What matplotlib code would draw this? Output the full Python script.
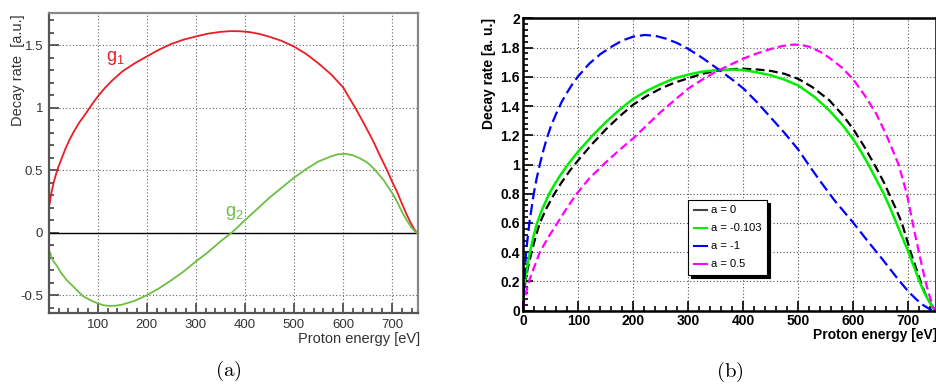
import matplotlib
matplotlib.use("Agg")
import matplotlib.pyplot as plt
from matplotlib.lines import Line2D
from matplotlib.ticker import MultipleLocator, FuncFormatter

plt.rcParams['font.family'] = ['Liberation Sans', 'DejaVu Sans']
plt.rcParams['axes.unicode_minus'] = False

# ---- panel (a): g1, g2 ----
t_g1 = [2, 5, 10, 15, 20, 27, 35, 42, 50, 62, 75, 87, 100, 115, 130, 150, 175,
        200, 225, 250, 275, 300, 325, 350, 370, 390, 410, 430, 450, 475, 500,
        525, 550, 575, 600, 612, 625, 637, 650, 662, 675, 690, 700, 710, 720,
        730, 738, 745, 751]
g1 = [0.23, 0.31, 0.40, 0.47, 0.53, 0.60, 0.68, 0.74, 0.80, 0.88, 0.95, 1.02,
      1.09, 1.16, 1.22, 1.29, 1.355, 1.41, 1.465, 1.51, 1.545, 1.57, 1.593,
      1.607, 1.613, 1.612, 1.605, 1.59, 1.568, 1.535, 1.49, 1.43, 1.355, 1.27,
      1.165, 1.085, 1.0, 0.915, 0.82, 0.73, 0.62, 0.5, 0.41, 0.33, 0.235,
      0.145, 0.08, 0.03, 0.0]

t_g2 = [3, 6, 10, 16, 25, 37, 50, 60, 71, 85, 100, 112, 125, 137, 150, 175,
        200, 225, 250, 275, 300, 325, 350, 373, 400, 425, 450, 475, 500, 525,
        550, 575, 590, 605, 620, 635, 650, 665, 683, 700, 710, 720, 730, 740,
        746, 751]
g2 = [-0.16, -0.2, -0.23, -0.26, -0.32, -0.38, -0.43, -0.47, -0.51, -0.54,
      -0.565, -0.58, -0.586, -0.583, -0.575, -0.545, -0.5, -0.445, -0.38,
      -0.31, -0.23, -0.155, -0.07, 0.0, 0.10, 0.19, 0.28, 0.36, 0.44, 0.51,
      0.57, 0.61, 0.628, 0.632, 0.62, 0.595, 0.56, 0.505, 0.42, 0.32, 0.25,
      0.17, 0.1, 0.04, 0.015, 0.0]

# ---- panel (b): spectra for different a ----
t_a0 = [0, 2, 4, 8, 15, 22, 30, 42, 55, 70, 85, 100, 125, 150, 175, 200, 225,
        250, 275, 300, 325, 350, 375, 400, 425, 450, 475, 500, 525, 556, 580,
        600, 620, 641, 655, 667, 678, 688, 696, 704, 713, 722, 730, 737, 743,
        748]
w_a0 = [0.08, 0.15, 0.2, 0.29, 0.4, 0.5, 0.6, 0.7, 0.79, 0.88, 0.96, 1.03,
        1.14, 1.24, 1.33, 1.41, 1.47, 1.52, 1.56, 1.59, 1.62, 1.64, 1.652,
        1.655, 1.65, 1.64, 1.62, 1.585, 1.53, 1.44, 1.34, 1.24, 1.12, 0.98,
        0.88, 0.78, 0.69, 0.6, 0.5, 0.4, 0.3, 0.2, 0.12, 0.07, 0.03, 0.0]

t_a103 = [0, 1.5, 3, 7, 12, 18, 25, 35, 47, 57, 67, 83, 100, 125, 150, 175,
          200, 225, 250, 275, 300, 325, 350, 375, 400, 425, 450, 475, 500, 530,
          556, 580, 600, 615, 627, 641, 655, 667, 678, 689, 700, 710, 720, 728,
          735, 742, 748]
w_a103 = [0.12, 0.16, 0.2, 0.3, 0.4, 0.5, 0.6, 0.7, 0.8, 0.865, 0.925, 1.01,
          1.09, 1.195, 1.29, 1.375, 1.45, 1.505, 1.55, 1.59, 1.615, 1.635,
          1.645, 1.65, 1.646, 1.63, 1.61, 1.58, 1.54, 1.46, 1.37, 1.27, 1.17,
          1.08, 1.0, 0.9, 0.8, 0.7, 0.6, 0.5, 0.4, 0.3, 0.2, 0.13, 0.08, 0.035,
          0.0]

t_a1 = [0, 1, 2, 3.5, 5, 8, 11, 15, 19, 24, 30, 36, 42, 50, 60, 70, 80, 90,
        100, 120, 140, 160, 180, 200, 221, 240, 260, 280, 300, 325, 355, 380,
        400, 425, 450, 475, 500, 520, 538, 565, 600, 625, 653, 680, 700, 715,
        726, 738, 748]
w_a1 = [0.0, 0.1, 0.2, 0.3, 0.4, 0.5, 0.6, 0.7, 0.8, 0.9, 1.0, 1.09, 1.17,
        1.26, 1.35, 1.43, 1.495, 1.555, 1.605, 1.69, 1.755, 1.805, 1.848,
        1.875, 1.886, 1.88, 1.86, 1.83, 1.79, 1.73, 1.65, 1.58, 1.52, 1.425,
        1.32, 1.215, 1.10, 0.99, 0.894, 0.757, 0.6, 0.48, 0.35, 0.22, 0.13,
        0.075, 0.04, 0.012, 0.0]

t_a05 = [0, 2, 5, 8, 12, 20, 30, 45, 62, 78, 95, 120, 150, 175, 200, 225, 250,
         275, 300, 325, 350, 375, 400, 425, 450, 470, 490, 505, 520, 540, 556,
         580, 600, 620, 641, 660, 682, 697, 705, 712, 719, 726, 733, 740, 745,
         748]
w_a05 = [0.02, 0.08, 0.12, 0.17, 0.22, 0.3, 0.4, 0.5, 0.6, 0.695, 0.79, 0.905,
         1.015, 1.1, 1.18, 1.27, 1.36, 1.44, 1.52, 1.58, 1.635, 1.68, 1.725,
         1.76, 1.79, 1.81, 1.82, 1.818, 1.805, 1.77, 1.73, 1.66, 1.58, 1.475,
         1.35, 1.2, 1.0, 0.8, 0.65, 0.52, 0.4, 0.28, 0.17, 0.08, 0.025, 0.0]

legend_labels = ['a = 0', 'a = -0.103', 'a = -1', 'a = 0.5']

W, H = 936, 385
fig = plt.figure(figsize=(W / 100, H / 100), dpi=100)


def fx(x):
    return x / W


def fy(y):
    return 1 - y / H


# ================= panel (a) =================
axa = fig.add_axes([fx(48.7), fy(313), fx(418 - 48.7), (313 - 13) / H])
axa.set_xlim(0, 753)
axa.set_ylim(-0.642, 1.758)
axa.set_axisbelow(True)
axa.grid(True, which='major', ls=(0, (1, 2)), color='#666666', lw=0.8)
axa.axhline(0, color='black', lw=1.0)
axa.plot(t_g1, g1, color='#ec1c24', lw=1.3)
axa.plot(t_g2, g2, color='#6cbf45', lw=1.3)
axa.set_xticks([100, 200, 300, 400, 500, 600, 700])
axa.xaxis.set_minor_locator(MultipleLocator(20))
axa.set_yticks([-0.5, 0, 0.5, 1, 1.5])
axa.yaxis.set_minor_locator(MultipleLocator(0.1))
axa.yaxis.set_major_formatter(FuncFormatter(lambda v, p: '%g' % v))
axa.tick_params(which='both', direction='in', top=False, right=False,
                color='#444444', width=1.2, labelsize=9.5, labelcolor='#333333')
axa.tick_params(which='major', length=7, pad=4)
axa.tick_params(which='minor', length=3.5)
for s in ['left', 'bottom']:
    axa.spines[s].set_color('#555555')
    axa.spines[s].set_linewidth(1.6)
for s in ['top', 'right']:
    axa.spines[s].set_color('#888888')
    axa.spines[s].set_linewidth(1.6)

axa.text(117, 1.40, r'g$_\mathregular{1}$', color='#ec1c24', fontsize=13,
         va='center')
axa.text(360, 0.16, r'g$_\mathregular{2}$', color='#6cbf45', fontsize=13,
         va='center')

fig.text(fx(18), fy(14), 'Decay rate  [a.u.]', rotation=90, ha='center',
         va='top', fontsize=10.5, color='#333333')
fig.text(fx(420), fy(338.5), 'Proton energy [eV]', ha='right', va='center',
         fontsize=10.5, color='#333333')

# ================= panel (b) =================
axb = fig.add_axes([fx(523.3), fy(310.7), fx(936 - 523.3), (310.7 - 18.3) / H])
axb.set_xlim(0, 750)
axb.set_ylim(0, 2)
axb.set_axisbelow(True)
axb.grid(True, which='major', ls=(0, (1, 2)), color='#555555', lw=0.8)
axb.plot(t_a0, w_a0, color='black', lw=1.6, ls=(0, (4, 2)))
axb.plot(t_a103, w_a103, color='#00ee00', lw=1.8)
axb.plot(t_a1, w_a1, color='#0000ff', lw=1.6, ls=(0, (5, 2.2)))
axb.plot(t_a05, w_a05, color='#ff00ff', lw=1.6, ls=(0, (3.8, 1.9)))
axb.set_xticks([0, 100, 200, 300, 400, 500, 600, 700])
axb.xaxis.set_minor_locator(MultipleLocator(20))
axb.set_yticks([0, 0.2, 0.4, 0.6, 0.8, 1, 1.2, 1.4, 1.6, 1.8, 2])
axb.yaxis.set_minor_locator(MultipleLocator(0.04))
axb.yaxis.set_major_formatter(FuncFormatter(lambda v, p: '%g' % v))
axb.tick_params(which='both', direction='in', top=False, right=False,
                color='black', width=1.2, labelsize=10)
axb.tick_params(which='major', length=7, pad=2.5)
axb.tick_params(which='minor', length=3.5)
for lab in axb.get_xticklabels() + axb.get_yticklabels():
    lab.set_fontweight('bold')
for s in axb.spines.values():
    s.set_color('black')
    s.set_linewidth(1.8)

handles = [Line2D([], [], color=c, lw=1.5)
           for c in ['#444444', '#00ee00', '#0000ff', '#ff00ff']]
leg = axb.legend(handles, legend_labels, loc='upper left',
                 bbox_to_anchor=(0.4, 0.379), borderaxespad=0,
                 fontsize=8, handlelength=1.2, handletextpad=0.35,
                 borderpad=0.5, labelspacing=0.72, fancybox=False,
                 framealpha=1, edgecolor='black',
                 shadow={'color': 'black', 'alpha': 1})
leg.get_frame().set_linewidth(0.8)

fig.text(fx(489.5), fy(18), 'Decay rate [a. u.]', rotation=90, ha='center',
         va='top', fontsize=10, fontweight='bold')
fig.text(fx(937), fy(328.5), 'Proton energy [eV]', ha='right', va='top',
         fontsize=10, fontweight='bold')

# captions
fig.text(fx(228), fy(371), r'$\mathrm{(a)}$', ha='center', va='center',
         fontsize=15, math_fontfamily='cm')
fig.text(fx(729.5), fy(372), r'$\mathrm{(b)}$', ha='center', va='center',
         fontsize=15, math_fontfamily='cm')

fig.savefig('out.png', dpi=100)
